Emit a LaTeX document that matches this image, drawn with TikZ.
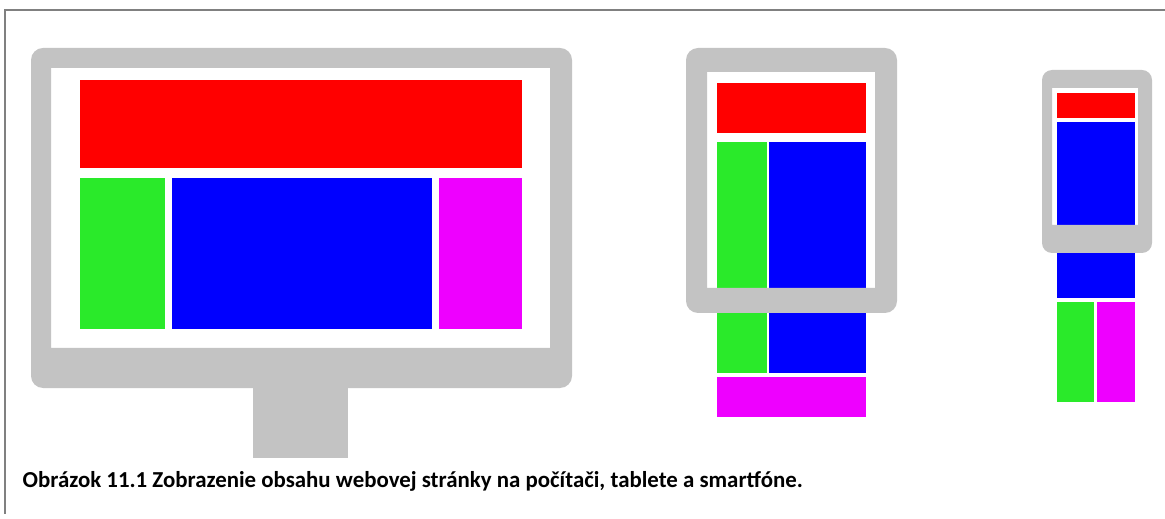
\documentclass[tikz,border=0pt]{standalone}
\usepackage{fontspec}
\setmainfont{Carlito}
\usepackage{xcolor}
\usepackage{tikz}
\usetikzlibrary{positioning}

\definecolor{ramcolor}{HTML}{C3C3C3}
\definecolor{hlavicka}{HTML}{FF0000}
\definecolor{menu}{HTML}{2AEA2A}
\definecolor{obsah}{HTML}{0000FF}
\definecolor{bocny}{HTML}{EE00FF}
\definecolor{okraj}{HTML}{808080}

\begin{document}
\begin{tikzpicture}[
  x=0.01cm, y=-0.01cm,
  frame/.style={draw=okraj, line width=0.02cm},
  ram/.style={fill=ramcolor, even odd rule},
  header/.style={fill=hlavicka},
  nav/.style={fill=menu},
  content/.style={fill=obsah},
  aside/.style={fill=bocny},
  caption/.style={font=\fontsize{6.5pt}{8pt}\selectfont\bfseries,
      inner sep=0pt, anchor=base west}
]
  \useasboundingbox (0,0) rectangle (1165,519);
  \draw[frame] (1165,10) -- (5,10) -- (5,514);

  % Pocitac
  \fill[ram] [rounded corners=0.12cm] (31,48) rectangle (572,388)
        [sharp corners] (51,68) rectangle (550,348);
  \fill[ramcolor] (253,386) rectangle (348,458);
  \fill[header] (80,80) rectangle (522,168);
  \fill[nav] (80,178) rectangle (165,329);
  \fill[content] (172,178) rectangle (432,329);
  \fill[aside] (439,178) rectangle (522,329);

  % Tablet
  \fill[header] (717,83) rectangle (866,133);
  \fill[nav] (717,142) rectangle (767,373);
  \fill[content] (769,142) rectangle (866,373);
  \fill[aside] (717,377) rectangle (866,417);
  \fill[ram] [rounded corners=0.12cm] (686,48) rectangle (897,313)
        [sharp corners] (707,72) rectangle (875,288);

  % Smartfon
  \fill[header] (1057,93) rectangle (1135,118);
  \fill[content] (1057,122) rectangle (1135,298);
  \fill[nav] (1057,302) rectangle (1094,402);
  \fill[aside] (1097,302) rectangle (1135,402);
  \fill[ram] [rounded corners=0.1cm] (1042,70) rectangle (1152,253)
        [sharp corners] (1052,88) rectangle (1138,225);

  \node[caption] (popis) at (22,487)
    {Obrázok 11.1 Zobrazenie obsahu webovej stránky na počítači, tablete a smartfóne.};
\end{tikzpicture}
\end{document}
